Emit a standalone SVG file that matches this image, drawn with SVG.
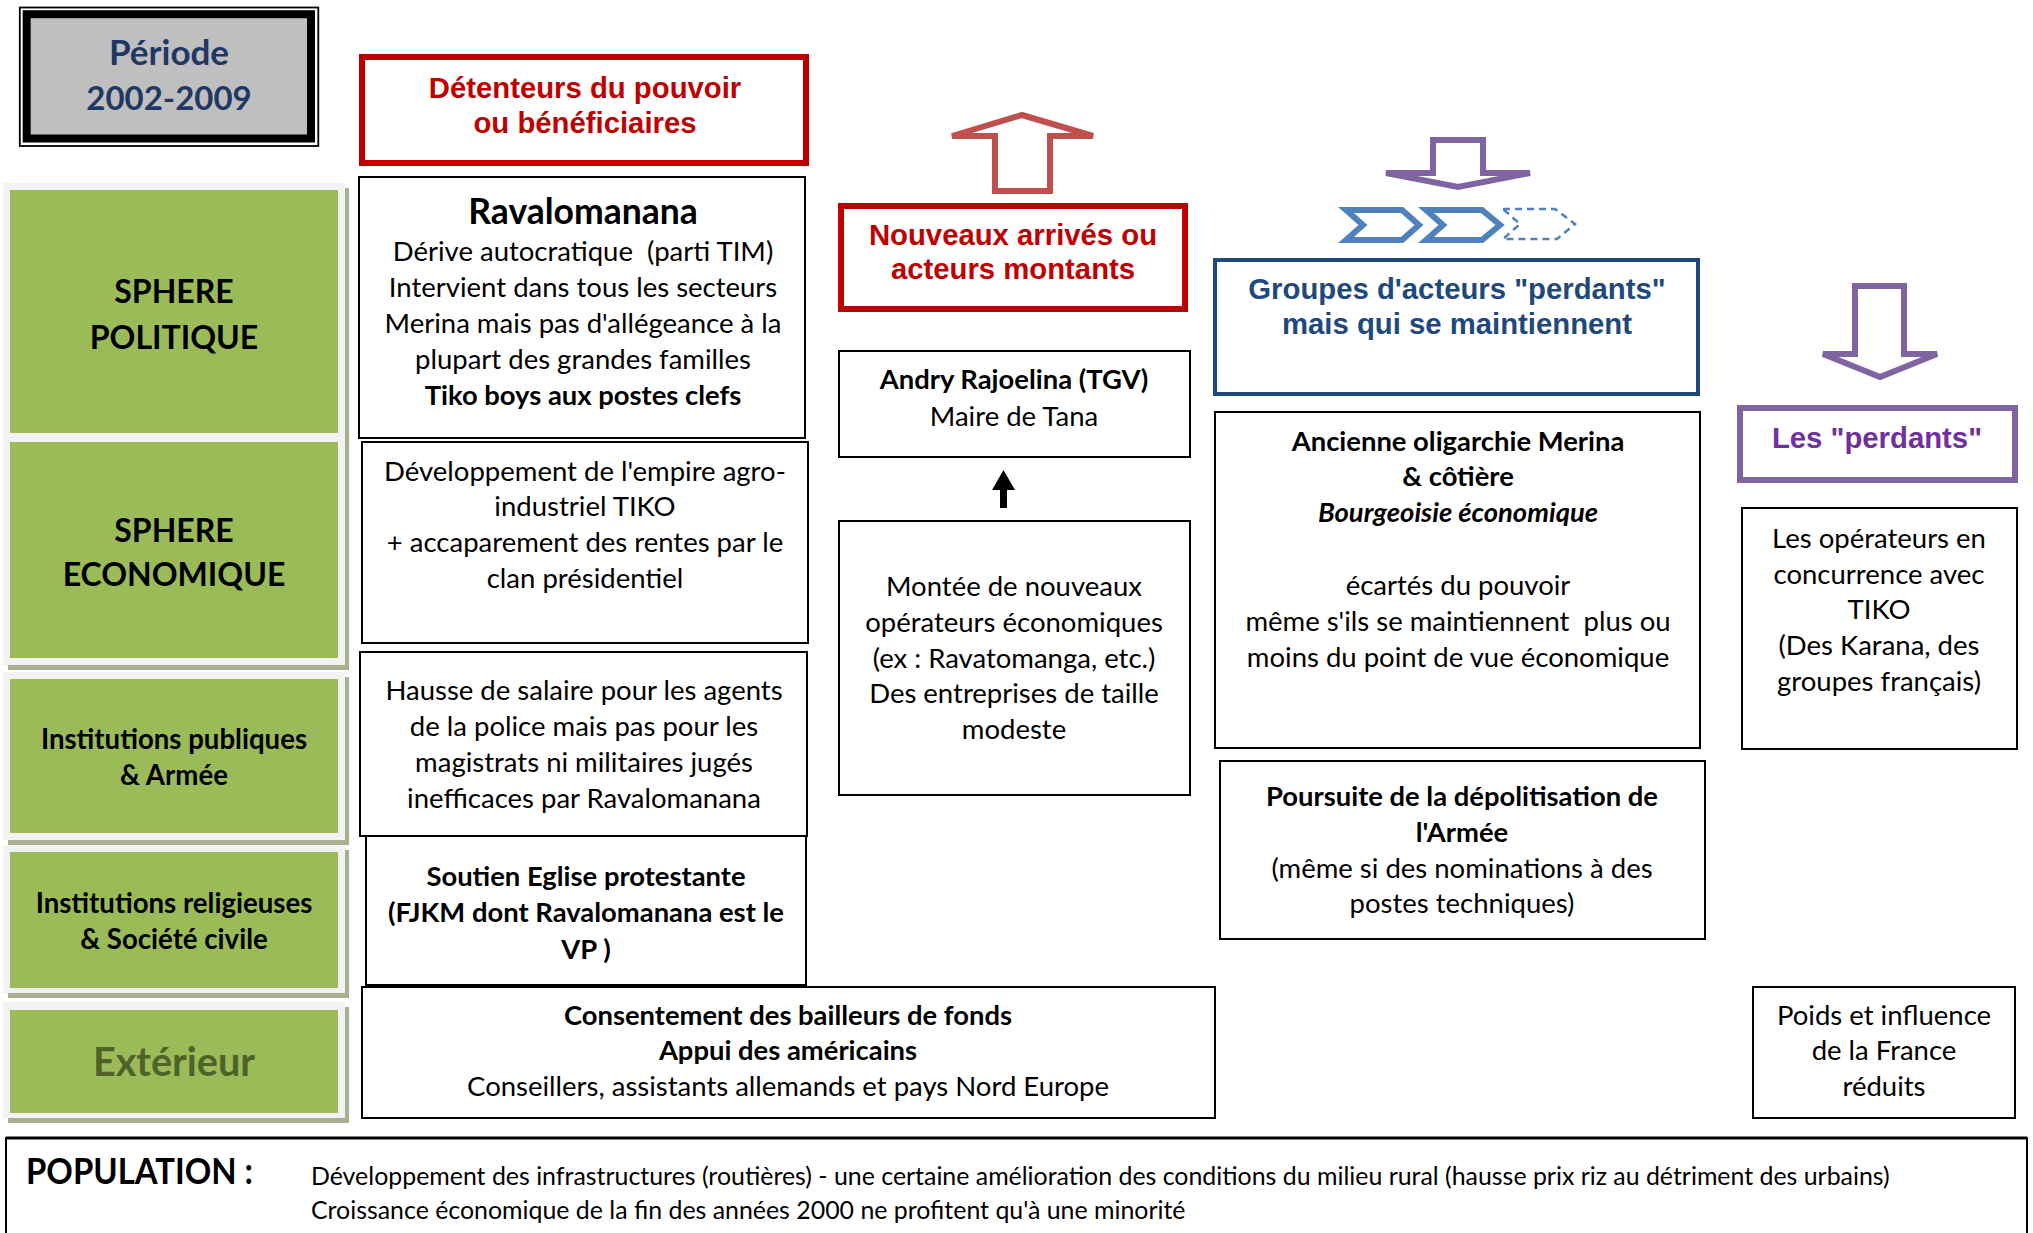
<svg xmlns="http://www.w3.org/2000/svg" width="2033" height="1233" viewBox="0 0 2033 1233">
<style>
.t{font-family:Lato,"Open Sans",sans-serif;font-size:27.5px;fill:#000;text-anchor:middle}
.b{font-weight:bold;font-size:27.4px}
.i{font-style:italic}
.h{font-family:"Liberation Sans",Arial,sans-serif;font-size:29.3px;font-weight:bold;text-anchor:middle}
.red{fill:#c00000}
.box{fill:#fff;stroke:#000;stroke-width:2}
.frame{fill:#f2f2f2}
.shadow{fill:#a9b092}
.green{fill:#9bbb59}
.lab{font-family:Lato,"Open Sans",sans-serif;font-weight:bold;text-anchor:middle;fill:#000}
.pop{font-family:Lato,"Open Sans",sans-serif;font-size:24.9px;fill:#000}
</style>
<rect width="2033" height="1233" fill="#fff"/>

<g id="periode">
<rect x="19.8" y="7.5" width="298.5" height="138.5" fill="#fff" stroke="#000" stroke-width="1.8"/>
<rect x="26.7" y="14.2" width="284.3" height="124.3" fill="#bfbfbf" stroke="#000" stroke-width="8"/>
<text class="lab" x="169" y="65" style="font-size:35px;fill:#1f3864">Période</text>
<text class="lab" x="169" y="110" style="font-size:33px;fill:#1f3864">2002-2009</text>
</g>

<g id="frames">
<rect class="frame" x="3" y="183" width="342" height="482"/>
<rect class="shadow" x="345" y="188" width="4" height="482"/>
<rect class="shadow" x="8" y="665" width="341" height="5"/>
<rect class="frame" x="3" y="672" width="342" height="168"/>
<rect class="shadow" x="345" y="677" width="4" height="168"/>
<rect class="shadow" x="8" y="840" width="341" height="5"/>
<rect class="frame" x="3" y="845" width="342" height="148"/>
<rect class="shadow" x="345" y="850" width="4" height="148"/>
<rect class="shadow" x="8" y="993" width="341" height="5"/>
<rect class="frame" x="3" y="1002" width="342" height="116"/>
<rect class="shadow" x="345" y="1007" width="4" height="116"/>
<rect class="shadow" x="8" y="1118" width="341" height="5"/>
</g>

<g id="sphere-politique">
<rect class="green" x="10" y="190" width="328" height="243"/>
<text class="lab" x="174" y="303" style="font-size:32px">SPHERE</text>
<text class="lab" x="174" y="349" style="font-size:32px">POLITIQUE</text>
</g>
<g id="sphere-economique">
<rect class="green" x="10" y="442" width="328" height="216"/>
<text class="lab" x="174" y="542" style="font-size:32px">SPHERE</text>
<text class="lab" x="174" y="586" style="font-size:32px">ECONOMIQUE</text>
</g>
<g id="institutions-publiques">
<rect class="green" x="10" y="679" width="328" height="154"/>
<text class="lab" x="174" y="748.5" style="font-size:27.6px">Institutions publiques</text>
<text class="lab" x="174" y="784.5" style="font-size:27.6px">&amp; Armée</text>
</g>
<g id="institutions-religieuses">
<rect class="green" x="10" y="852" width="328" height="136"/>
<text class="lab" x="174" y="912.5" style="font-size:27.6px">Institutions religieuses</text>
<text class="lab" x="174" y="948.5" style="font-size:27.6px">&amp; Société civile</text>
</g>
<g id="exterieur">
<rect class="green" x="10" y="1010" width="328" height="103"/>
<text class="lab" x="174" y="1076" style="font-size:39.6px;fill:#4f6228">Extérieur</text>
</g>

<g id="detenteurs">
<rect x="362" y="57" width="444" height="106" fill="#fff" stroke="#c00000" stroke-width="6"/>
<text class="h red" x="585" y="97.5">Détenteurs du pouvoir</text>
<text class="h red" x="585" y="132.5">ou bénéficiaires</text>
</g>

<g id="ravalomanana">
<rect class="box" x="359" y="177" width="446" height="261"/>
<text class="t b" x="583" y="224" style="font-size:35.5px">Ravalomanana</text>
<text class="t" x="583" y="260.5">Dérive autocratique&#160; (parti TIM)</text>
<text class="t" x="583" y="297">Intervient dans tous les secteurs</text>
<text class="t" x="583" y="333">Merina mais pas d'allégeance à la</text>
<text class="t" x="583" y="369">plupart des grandes familles</text>
<text class="t b" x="583" y="405">Tiko boys aux postes clefs</text>
</g>

<g id="developpement">
<rect class="box" x="362" y="442" width="446" height="201"/>
<text class="t" x="585" y="481">Développement de l'empire agro-</text>
<text class="t" x="585" y="516">industriel TIKO</text>
<text class="t" x="585" y="552">+ accaparement des rentes par le</text>
<text class="t" x="585" y="588">clan présidentiel</text>
</g>

<g id="hausse">
<rect class="box" x="360" y="652" width="447" height="184"/>
<text class="t" x="584" y="699.5">Hausse de salaire pour les agents</text>
<text class="t" x="584" y="735.5">de la police mais pas pour les</text>
<text class="t" x="584" y="771.5">magistrats ni militaires jugés</text>
<text class="t" x="584" y="807.5">inefficaces par Ravalomanana</text>
</g>

<g id="soutien">
<rect class="box" x="366" y="836" width="440" height="149"/>
<text class="t b" x="586" y="886">Soutien Eglise protestante</text>
<text class="t b" x="586" y="922">(FJKM dont Ravalomanana est le</text>
<text class="t b" x="586" y="959">VP )</text>
</g>

<g id="consentement">
<rect class="box" x="362" y="987" width="853" height="131"/>
<text class="t b" x="788" y="1025">Consentement des bailleurs de fonds</text>
<text class="t b" x="788" y="1060">Appui des américains</text>
<text class="t" x="788" y="1096">Conseillers, assistants allemands et pays Nord Europe</text>
</g>

<g id="nouveaux">
<rect x="841" y="206" width="344" height="103" fill="#fff" stroke="#c00000" stroke-width="6"/>
<text class="h red" x="1013" y="244.5">Nouveaux arrivés ou</text>
<text class="h red" x="1013" y="279">acteurs montants</text>
</g>

<g id="andry">
<rect class="box" x="839" y="351" width="351" height="106"/>
<text class="t b" x="1014" y="389">Andry Rajoelina (TGV)</text>
<text class="t" x="1014" y="426">Maire de Tana</text>
</g>

<g id="montee">
<rect class="box" x="839" y="521" width="351" height="274"/>
<text class="t" x="1014" y="596">Montée de nouveaux</text>
<text class="t" x="1014" y="632">opérateurs économiques</text>
<text class="t" x="1014" y="668">(ex : Ravatomanga, etc.)</text>
<text class="t" x="1014" y="703">Des entreprises de taille</text>
<text class="t" x="1014" y="739">modeste</text>
</g>

<g id="groupes">
<rect x="1215" y="260" width="483" height="134" fill="#fff" stroke="#1f497d" stroke-width="4"/>
<text class="h" x="1457" y="298.5" style="fill:#1f497d">Groupes d'acteurs "perdants"</text>
<text class="h" x="1457" y="333.5" style="fill:#1f497d">mais qui se maintiennent</text>
</g>

<g id="ancienne">
<rect class="box" x="1215" y="412" width="485" height="336"/>
<text class="t b" x="1458" y="451">Ancienne oligarchie Merina</text>
<text class="t b" x="1458" y="486">&amp; côtière</text>
<text class="t b i" x="1458" y="522">Bourgeoisie économique</text>
<text class="t" x="1458" y="595">écartés du pouvoir</text>
<text class="t" x="1458" y="631">même s'ils se maintiennent&#160; plus ou</text>
<text class="t" x="1458" y="667">moins du point de vue économique</text>
</g>

<g id="poursuite">
<rect class="box" x="1220" y="761" width="485" height="178"/>
<text class="t b" x="1462" y="806">Poursuite de la dépolitisation de</text>
<text class="t b" x="1462" y="842">l'Armée</text>
<text class="t" x="1462" y="878">(même si des nominations à des</text>
<text class="t" x="1462" y="913">postes techniques)</text>
</g>

<g id="perdants">
<rect x="1740" y="408" width="275" height="72" fill="#fff" stroke="#8064a2" stroke-width="6"/>
<text class="h" x="1877" y="448" style="fill:#7030a0">Les "perdants"</text>
</g>

<g id="operateurs">
<rect class="box" x="1742" y="508" width="275" height="241"/>
<text class="t" x="1879" y="547.5">Les opérateurs en</text>
<text class="t" x="1879" y="583.5">concurrence avec</text>
<text class="t" x="1879" y="619">TIKO</text>
<text class="t" x="1879" y="655">(Des Karana, des</text>
<text class="t" x="1879" y="691">groupes français)</text>
</g>

<g id="poids">
<rect class="box" x="1753" y="987" width="262" height="131"/>
<text class="t" x="1884" y="1025">Poids et influence</text>
<text class="t" x="1884" y="1060">de la France</text>
<text class="t" x="1884" y="1096">réduits</text>
</g>

<g id="population">
<rect x="6" y="1138" width="2021" height="120" fill="#fff" stroke="#000" stroke-width="2"/>
<line x1="6" y1="1138" x2="2027" y2="1138" stroke="#000" stroke-width="3"/>
<text x="26" y="1184" textLength="227" lengthAdjust="spacingAndGlyphs" style="font-family:Lato,sans-serif;font-weight:bold;font-size:36px">POPULATION :</text>
<text class="pop" x="311" y="1185">Développement des infrastructures (routières) - une certaine amélioration des conditions du milieu rural (hausse prix riz au détriment des urbains)</text>
<text class="pop" x="311" y="1219">Croissance économique de la fin des années 2000 ne profitent qu'à une minorité</text>
</g>

<g id="connectors">
<path d="M1022,115 L1093,136 L1050,136 L1050,191 L995,191 L995,136 L952,136 Z" fill="#fff" stroke="#c0504d" stroke-width="6" stroke-linejoin="miter"/>
<path d="M1433,140 L1483,140 L1483,173 L1530,173 L1458,187 L1386,173 L1433,173 Z" fill="#fff" stroke="#8064a2" stroke-width="6"/>
<path d="M1855,286 L1904,286 L1904,354 L1937,354 L1880,377 L1823,354 L1855,354 Z" fill="#fff" stroke="#8064a2" stroke-width="6"/>
<path d="M1346,210 L1402,210 L1419,225 L1402,240 L1346,240 L1363,225 Z" fill="#fff" stroke="#4f81bd" stroke-width="6"/>
<path d="M1426,210 L1482,210 L1500,225 L1482,240 L1426,240 L1443,225 Z" fill="#fff" stroke="#4f81bd" stroke-width="6"/>
<path d="M1503,209 L1555,209 L1575,224 L1557,239 L1503,239 L1520,224 Z" fill="none" stroke="#4f81bd" stroke-width="2.5" stroke-dasharray="7,5"/>
<polygon points="1000,508 1000,490 992,490 1003.5,470 1015,490 1007,490 1007,508" fill="#000"/>
</g>
</svg>
